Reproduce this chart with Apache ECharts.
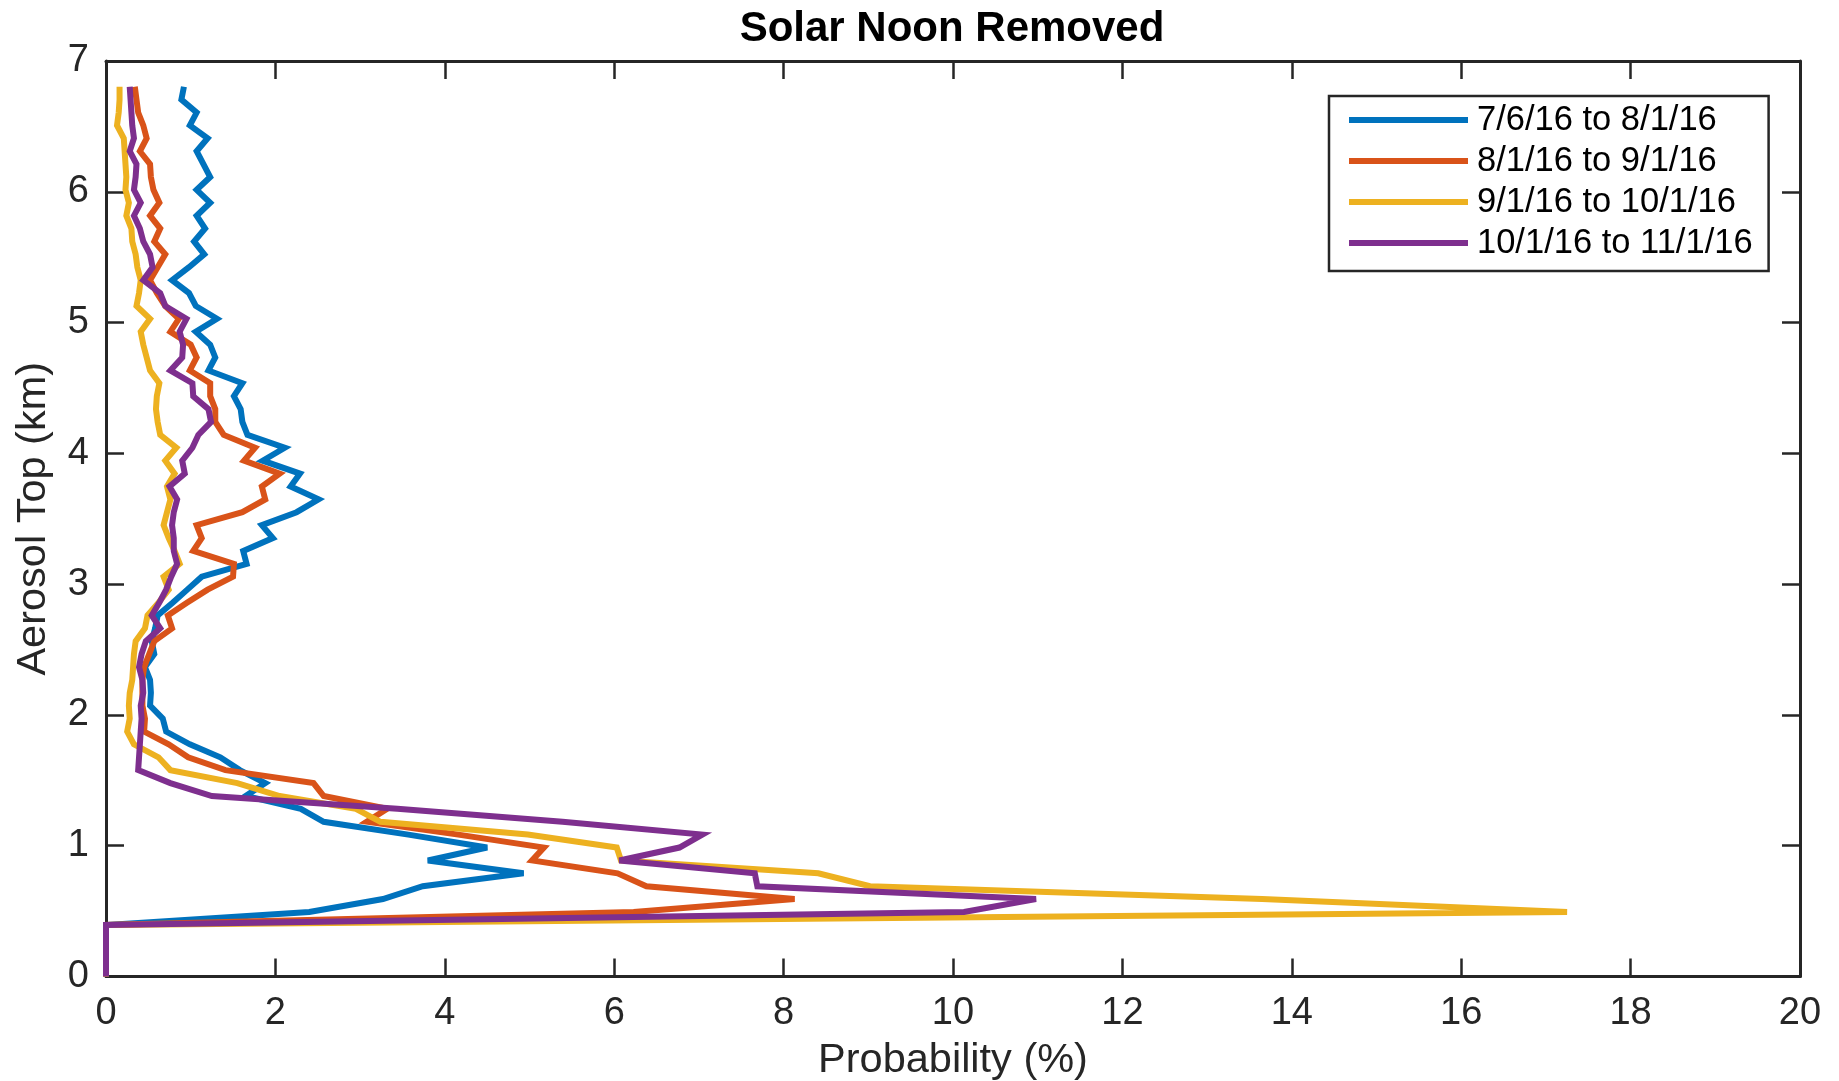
<!DOCTYPE html>
<html>
<head>
<meta charset="utf-8">
<title>Solar Noon Removed</title>
<script src="https://cdn.jsdelivr.net/npm/echarts@6/dist/echarts.min.js"></script>
<style>
  html, body { margin: 0; padding: 0; background: #fff; }
  #chart { width: 1839px; height: 1081px; }
</style>
</head>
<body>
<div id="chart"></div>
<script>
// Altitude of each profile level (km), bottom to top
const altitudes = [
  0, 0.099, 0.197, 0.296, 0.394, 0.493, 0.592, 0.690, 0.789, 0.887,
  0.986, 1.085, 1.183, 1.282, 1.380, 1.479, 1.578, 1.676, 1.775, 1.873,
  1.972, 2.071, 2.169, 2.268, 2.366, 2.465, 2.564, 2.662, 2.761, 2.859,
  2.958, 3.057, 3.155, 3.254, 3.352, 3.451, 3.550, 3.648, 3.747, 3.845,
  3.944, 4.043, 4.141, 4.240, 4.338, 4.437, 4.536, 4.634, 4.733, 4.831,
  4.930, 5.029, 5.127, 5.226, 5.324, 5.423, 5.522, 5.620, 5.719, 5.817,
  5.916, 6.015, 6.113, 6.212, 6.310, 6.409, 6.508, 6.606, 6.705, 6.803
];

// Probability (%) of aerosol top at each altitude, one list per period
const julAug = [
  0, 0, 0, 0, 0, 2.40, 3.27, 3.74, 4.93, 3.80,
  4.50, 3.57, 2.57, 2.30, 1.65, 1.88, 1.58, 1.35, 0.99, 0.71,
  0.67, 0.52, 0.53, 0.52, 0.46, 0.57, 0.54, 0.58, 0.61, 0.79,
  0.96, 1.13, 1.66, 1.62, 1.97, 1.84, 2.25, 2.51, 2.18, 2.29,
  1.85, 2.11, 1.67, 1.61, 1.59, 1.51, 1.61, 1.21, 1.29, 1.23,
  1.06, 1.31, 1.06, 0.98, 0.78, 0.98, 1.16, 1.04, 1.17, 1.07,
  1.23, 1.07, 1.23, 1.15, 1.07, 1.20, 0.99, 1.07, 0.89, 0.92
];
const augSep = [
  0, 0, 0, 0, 0, 6.23, 8.13, 6.38, 6.04, 5.03,
  5.17, 4.16, 3.08, 3.32, 2.57, 2.45, 1.41, 0.97, 0.74, 0.45,
  0.46, 0.43, 0.43, 0.43, 0.45, 0.51, 0.57, 0.78, 0.73, 0.96,
  1.20, 1.50, 1.51, 1.03, 1.13, 1.07, 1.61, 1.88, 1.84, 2.05,
  1.63, 1.76, 1.39, 1.29, 1.29, 1.23, 1.23, 0.99, 1.07, 1.00,
  0.76, 0.86, 0.70, 0.60, 0.52, 0.61, 0.70, 0.57, 0.64, 0.52,
  0.63, 0.56, 0.53, 0.52, 0.40, 0.48, 0.44, 0.38, 0.36, 0.34
];
const sepOct = [
  0, 0, 0, 0, 0, 17.25, 13.65, 9.02, 8.41, 6.08,
  6.03, 4.98, 3.24, 2.95, 2.05, 1.55, 0.76, 0.62, 0.33, 0.25,
  0.28, 0.27, 0.28, 0.31, 0.32, 0.33, 0.35, 0.46, 0.49, 0.62,
  0.74, 0.68, 0.87, 0.81, 0.74, 0.68, 0.72, 0.76, 0.72, 0.81,
  0.70, 0.83, 0.64, 0.61, 0.59, 0.60, 0.63, 0.52, 0.48, 0.44,
  0.41, 0.52, 0.36, 0.39, 0.41, 0.37, 0.35, 0.31, 0.30, 0.24,
  0.27, 0.23, 0.24, 0.23, 0.22, 0.21, 0.13, 0.15, 0.16, 0.16
];
const octNov = [
  0, 0, 0, 0, 0, 10.13, 10.98, 7.69, 7.66, 6.06,
  6.77, 7.04, 5.39, 3.44, 1.25, 0.76, 0.38, 0.39, 0.40, 0.41,
  0.42, 0.41, 0.44, 0.43, 0.39, 0.42, 0.47, 0.64, 0.54, 0.63,
  0.71, 0.77, 0.84, 0.80, 0.80, 0.78, 0.80, 0.84, 0.75, 0.93,
  0.90, 1.02, 1.09, 1.24, 1.21, 1.03, 1.02, 0.76, 0.90, 0.91,
  0.87, 0.95, 0.70, 0.64, 0.44, 0.55, 0.52, 0.44, 0.40, 0.33,
  0.41, 0.33, 0.35, 0.36, 0.28, 0.33, 0.31, 0.30, 0.29, 0.28
];

const periodNames = ['7/6/16 to 8/1/16', '8/1/16 to 9/1/16', '9/1/16 to 10/1/16', '10/1/16 to 11/1/16'];
const periodColors = ['#0072BD', '#D95319', '#EDB120', '#7E2F8E'];
const periodValues = [julAug, augSep, sepOct, octNov];

const xTicks = { min: 0, max: 20, interval: 2 };
const yTicks = { min: 0, max: 7, interval: 1 };

const FONT = '"Liberation Sans", Arial, Helvetica, sans-serif';
const INK = '#262626';

function profile(values) {
  return values.map((v, i) => [v, altitudes[i]]);
}

const chart = echarts.init(document.getElementById('chart'), null, { renderer: 'canvas' });

const axisLine = { show: true, onZero: false, lineStyle: { color: INK, width: 3 } };
const axisTick = { show: true, inside: true, length: 18, lineStyle: { color: INK, width: 2.5 } };

chart.setOption({
  animation: false,
  backgroundColor: '#ffffff',
  grid: { left: 106, right: 39, top: 61, bottom: 104.5, containLabel: false, outerBoundsMode: 'none' },
  graphic: [{
    type: 'text',
    x: 952, y: 29,
    style: {
      text: 'Solar Noon Removed',
      font: 'bold 42px ' + FONT,
      fill: '#000',
      align: 'center',
      verticalAlign: 'middle'
    }
  }],
  legend: {
    orient: 'vertical',
    left: 1329, top: 96,
    icon: 'rect',
    itemWidth: 119, itemHeight: 6, itemGap: 0,
    padding: [3.5, 16, 7.5, 20],
    backgroundColor: '#ffffff',
    borderColor: INK, borderWidth: 2.5, borderRadius: 0,
    textStyle: { fontFamily: FONT, fontSize: 34.5, color: '#000', lineHeight: 41, padding: [0, 0, 0, 4] },
    data: periodNames
  },
  xAxis: [{
    type: 'value', position: 'bottom', ...xTicks,
    axisLine, axisTick,
    splitLine: { show: false },
    axisLabel: { fontFamily: FONT, fontSize: 38, color: INK, margin: 18 },
    name: 'Probability (%)', nameLocation: 'middle', nameGap: 63,
    nameTextStyle: { fontFamily: FONT, fontSize: 41.5, color: INK }
  }, {
    type: 'value', position: 'top', ...xTicks,
    axisLine, axisTick,
    splitLine: { show: false }, axisLabel: { show: false }
  }],
  yAxis: [{
    type: 'value', position: 'left', ...yTicks,
    axisLine, axisTick,
    splitLine: { show: false },
    axisLabel: { fontFamily: FONT, fontSize: 38, color: INK, margin: 17 },
    name: 'Aerosol Top (km)', nameLocation: 'middle', nameGap: 51, nameRotate: 90,
    nameTextStyle: { fontFamily: FONT, fontSize: 41.5, color: INK }
  }, {
    type: 'value', position: 'right', ...yTicks,
    axisLine, axisTick,
    splitLine: { show: false }, axisLabel: { show: false }
  }],
  series: periodNames.map((name, i) => ({
    name,
    type: 'line',
    xAxisIndex: 0, yAxisIndex: 0,
    data: profile(periodValues[i]),
    showSymbol: false, symbol: 'none',
    clip: false,
    color: periodColors[i],
    lineStyle: { color: periodColors[i], width: 6, join: 'miter', miterLimit: 4 },
    z: 2 + i
  }))
});
</script>
</body>
</html>
